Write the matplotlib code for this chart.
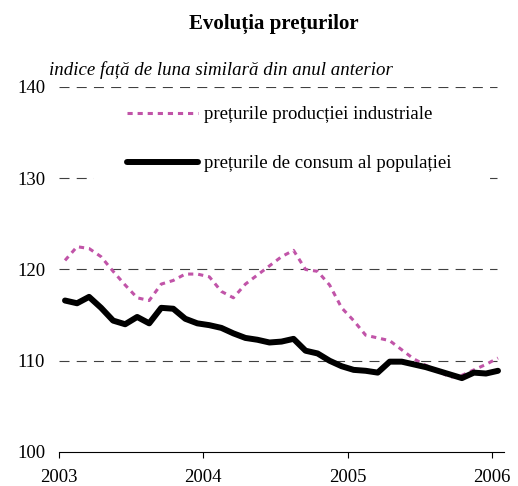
import matplotlib
matplotlib.use('Agg')
import matplotlib.pyplot as plt
import numpy as np
from matplotlib.patches import Rectangle

# ------------------------------------------------------------
# date lunare, ian 2003 - ian 2006 (indice fata de luna similara din anul anterior)
# ------------------------------------------------------------
ani = ['2003', '2004', '2005', '2006']
preturi_industriale = [121.0, 122.5, 122.3, 121.4, 119.8, 118.3, 116.9, 116.6, 118.4, 118.8, 119.5, 119.5,
                       119.2, 117.6, 116.9, 118.4, 119.4, 120.4, 121.4, 122.1, 120.0, 119.8, 118.3, 115.8,
                       114.4, 112.8, 112.5, 112.2, 111.2, 110.2, 109.5, 108.9, 108.2, 108.4, 109.0, 109.6,
                       110.3]
preturi_consum = [116.6, 116.3, 117.0, 115.8, 114.4, 114.0, 114.8, 114.1, 115.8, 115.7, 114.6, 114.1,
                  113.9, 113.6, 113.0, 112.5, 112.3, 112.0, 112.1, 112.4, 111.1, 110.8, 110.0, 109.4,
                  109.0, 108.9, 108.7, 109.9, 109.9, 109.6, 109.3, 108.9, 108.5, 108.1, 108.7, 108.6,
                  108.9]

luni = np.arange(len(preturi_consum)) + 0.5

plt.rcParams.update({
    'font.family': 'serif',
    'font.serif': ['Liberation Serif', 'DejaVu Serif'],
    'font.size': 13.5,
})

fig = plt.figure(figsize=(5.18, 4.86), dpi=100)
ax = fig.add_axes([59/518, 1 - 452/486, 445/518, (452 - 87)/486])

ax.plot(luni, preturi_industriale, color='#C154A8', linewidth=2.2,
        dashes=(1.7, 1.6), dash_capstyle='butt', zorder=3,
        label='prețurile producției industriale')
ax.plot(luni, preturi_consum, color='black', linewidth=4.3,
        solid_joinstyle='round', solid_capstyle='round', zorder=4,
        label='prețurile de consum al populației')

ax.set_xlim(0, 37)
ax.set_ylim(100, 140)
ax.set_xticks([0, 12, 24, 36])
ax.set_xticklabels(ani)
ax.set_yticks([100, 110, 120, 130, 140])
ax.tick_params(axis='y', length=0, pad=10)
ax.tick_params(axis='x', direction='out', length=4.5, width=0.8, pad=8)

for s in ['top', 'right', 'left']:
    ax.spines[s].set_visible(False)
ax.spines['bottom'].set_linewidth(0.8)

# linii de grila punctate
for v in [110, 120, 130, 140]:
    ax.axhline(v, xmax=438/445, color='#404040', linewidth=0.8,
               dashes=(9, 6.5), zorder=1)

# fundal alb sub legenda
ax.add_patch(Rectangle((2.9, 128.8), 32.8, 10.2, facecolor='white',
                       edgecolor='none', zorder=2))

ax.legend(loc='upper left', bbox_to_anchor=(127/518, 1 - 106/486),
          bbox_transform=fig.transFigure, frameon=False,
          borderpad=0, borderaxespad=0, handlelength=3.8,
          handletextpad=0.3, labelspacing=1.7, fontsize=13.5)

fig.text(0.529, 1 - 24/486, 'Evoluția prețurilor', ha='center', va='center',
         fontsize=15, fontweight='bold')
fig.text(49/518, 1 - 70/486, 'indice față de luna similară din anul anterior',
         ha='left', va='center', fontsize=13.6, style='italic')

fig.savefig('out.png', dpi=100)
